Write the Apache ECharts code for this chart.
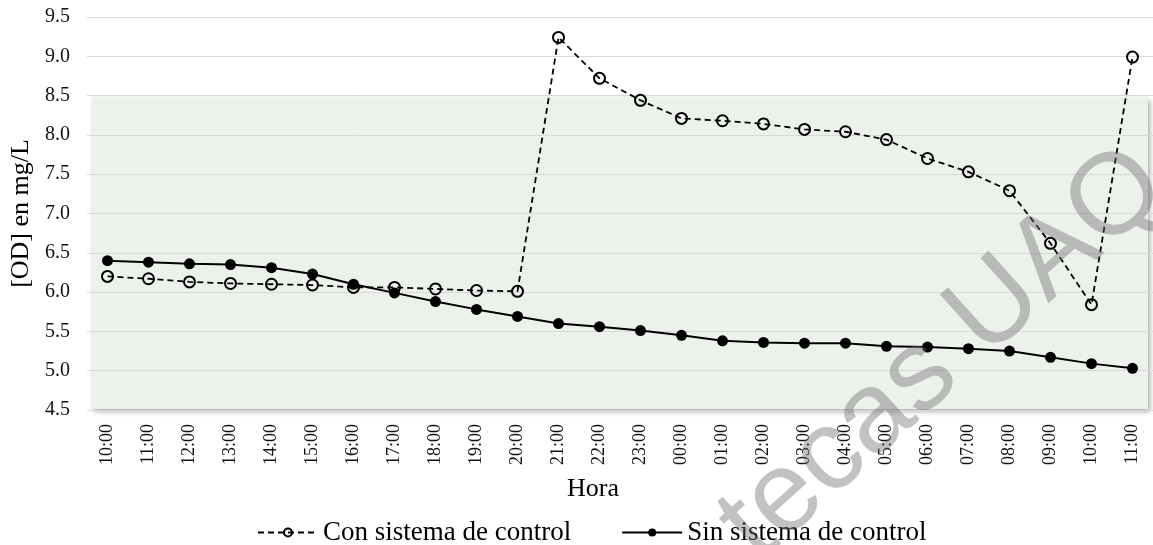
<!DOCTYPE html>
<html>
<head>
<meta charset="utf-8">
<script src="https://cdn.jsdelivr.net/npm/echarts@6/dist/echarts.min.js"></script>
<style>
  html, body { margin: 0; padding: 0; background: #fff; }
  #chart { width: 1153px; height: 545px; }
</style>
</head>
<body>
<div id="chart"></div>
<script>
const categories = ['10:00','11:00','12:00','13:00','14:00','15:00','16:00','17:00','18:00','19:00','20:00','21:00','22:00','23:00','00:00','01:00','02:00','03:00','04:00','05:00','06:00','07:00','08:00','09:00','10:00','11:00'];
const conSistema = [6.20,6.17,6.13,6.11,6.10,6.09,6.06,6.06,6.04,6.02,6.01,9.24,8.72,8.44,8.21,8.18,8.14,8.07,8.04,7.94,7.70,7.53,7.29,6.62,5.84,8.99];
const sinSistema = [6.40,6.38,6.36,6.35,6.31,6.23,6.10,5.99,5.88,5.78,5.69,5.60,5.56,5.51,5.45,5.38,5.36,5.35,5.35,5.31,5.30,5.28,5.25,5.17,5.09,5.03];
const seriesNames = ['Con sistema de control', 'Sin sistema de control'];
const yMin = 4.5, yMax = 9.5, yStep = 0.5;
const shadeTop = 8.5, shadeBottom = 4.5;

const serif = "'Liberation Serif', 'Times New Roman', serif";
const chart = echarts.init(document.getElementById('chart'), null, { renderer: 'canvas' });

const option = {
  animation: false,
  backgroundColor: '#ffffff',
  grid: { left: 87, right: 0, top: 17, bottom: 135 },
  legend: {
    left: 252, top: 514,
    itemWidth: 60, itemHeight: 10, itemGap: 50,
    textStyle: { fontFamily: serif, fontSize: 27, color: '#000' },
    data: seriesNames
  },
  xAxis: {
    type: 'category',
    data: categories,
    boundaryGap: true,
    axisLine: { show: false },
    axisTick: { show: false },
    axisLabel: { rotate: 90, margin: 14, fontFamily: serif, fontSize: 18, color: '#111', interval: 0 },
    name: 'Hora',
    nameLocation: 'middle',
    nameGap: 66,
    nameTextStyle: { fontFamily: serif, fontSize: 26, color: '#000', padding: [0, 54, 0, 0] }
  },
  yAxis: {
    type: 'value',
    min: yMin, max: yMax, interval: yStep,
    axisLine: { show: false },
    axisTick: { show: false },
    splitLine: { show: true, lineStyle: { color: '#d9d9d9', width: 1 } },
    axisLabel: { margin: 17, fontFamily: serif, fontSize: 20, color: '#111',
      formatter: v => v.toFixed(1) },
    name: '[OD] en mg/L',
    nameLocation: 'middle',
    nameGap: 41,
    nameTextStyle: { fontFamily: serif, fontSize: 26, color: '#000' }
  },
  series: [
    {
      name: seriesNames[0],
      type: 'line',
      data: conSistema,
      symbol: 'circle',
      symbolSize: 11,
      lineStyle: { color: '#000', width: 1.8, type: [6, 4] },
      itemStyle: { color: 'rgba(0,0,0,0)', borderColor: '#000', borderWidth: 2 },
      z: 3
    },
    {
      name: seriesNames[1],
      type: 'line',
      data: sinSistema,
      symbol: 'circle',
      symbolSize: 11,
      lineStyle: { color: '#000', width: 2, type: 'solid' },
      itemStyle: { color: '#000', borderColor: '#000', borderWidth: 0 },
      z: 4
    }
  ]
};
chart.setOption(option);

const gridLeft = 87, gridRight = 1153;
const yTop = chart.convertToPixel({ yAxisIndex: 0 }, shadeTop);
const yBot = chart.convertToPixel({ yAxisIndex: 0 }, shadeBottom);
const wmAngle = 42 * Math.PI / 180;
chart.setOption({
  graphic: [
    {
      type: 'rect',
      z: -10,
      silent: true,
      shape: { x: gridLeft + 5, y: yTop + 1, width: (gridRight - 5) - (gridLeft + 5), height: yBot - yTop - 2 },
      style: {
        fill: '#edf1ec',
        shadowBlur: 5,
        shadowOffsetX: 2,
        shadowOffsetY: 3,
        shadowColor: 'rgba(0,0,0,0.35)'
      }
    },
    {
      type: 'text',
      z: 100,
      silent: true,
      x: 737, y: 541,
      rotation: wmAngle,
      style: {
        text: 'tecas UAQ',
        font: "115px 'Liberation Sans', Arial, sans-serif",
        fill: 'rgba(110,110,110,0.42)',
        textAlign: 'left',
        textVerticalAlign: 'middle'
      }
    }
  ]
});
</script>
</body>
</html>
